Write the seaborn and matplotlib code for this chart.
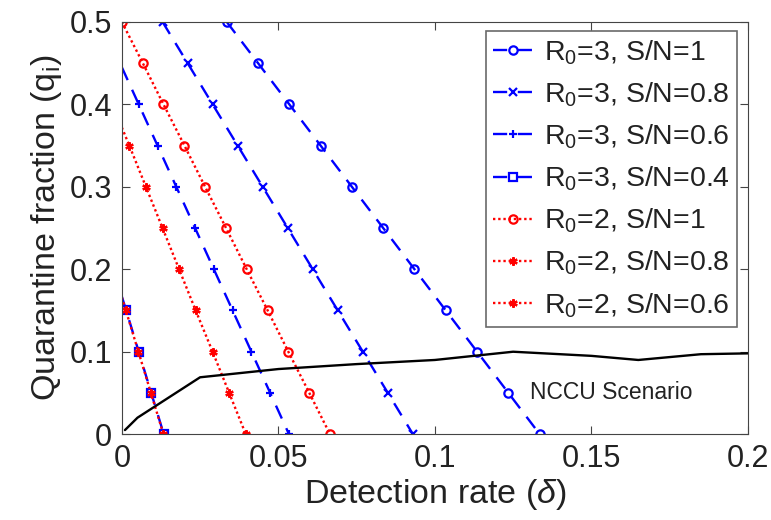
import numpy as np
import pandas as pd
import seaborn as sns
import matplotlib.pyplot as plt

# quarantine fraction levels where markers sit
q_full = [0.5, 0.45, 0.4, 0.35, 0.3, 0.25, 0.2, 0.15, 0.1, 0.05, 0.0]

# R0=3 curves (detection rate for each quarantine level)
x_r3_s10 = [0.0335, 0.0435, 0.0535, 0.0635, 0.0735, 0.0835, 0.0935, 0.1035, 0.1135, 0.1235, 0.1335]
x_r3_s08 = [0.013, 0.021, 0.029, 0.037, 0.045, 0.053, 0.061, 0.069, 0.077, 0.085, 0.093]
q_r3_s06 = [0.445, 0.4, 0.35, 0.3, 0.25, 0.2, 0.15, 0.1, 0.05, 0.0]
x_r3_s06 = [0.0, 0.0054, 0.0114, 0.0174, 0.0234, 0.0294, 0.0354, 0.0414, 0.0474, 0.0534]
q_r3_s04 = [0.167, 0.15, 0.1, 0.05, 0.0]
x_r3_s04 = [0.0, 0.0014, 0.0054, 0.0094, 0.0134]

# R0=2 curves
x_r2_s10 = [0.0, 0.0067, 0.0133, 0.0200, 0.0266, 0.0333, 0.0399, 0.0466, 0.0532, 0.0599, 0.0665]
q_r2_s08 = [0.372, 0.35, 0.3, 0.25, 0.2, 0.15, 0.1, 0.05, 0.0]
x_r2_s08 = [0.0, 0.0024, 0.0077, 0.0130, 0.0183, 0.0236, 0.0290, 0.0343, 0.0396]
q_r2_s06 = [0.166, 0.15, 0.1, 0.05, 0.0]
x_r2_s06 = [0.0, 0.0013, 0.0053, 0.0093, 0.0133]

# NCCU scenario curve
x_nccu = [0.001, 0.005, 0.025, 0.05, 0.075, 0.1, 0.125, 0.15, 0.165, 0.185, 0.2]
q_nccu = [0.005, 0.02, 0.069, 0.079, 0.085, 0.09, 0.1, 0.095, 0.09, 0.097, 0.098]

sns.set_style("ticks")
plt.rcParams['font.family'] = ['Liberation Sans', 'DejaVu Sans']
plt.rcParams['mathtext.fontset'] = 'custom'
plt.rcParams['mathtext.rm'] = 'Liberation Sans'
plt.rcParams['mathtext.it'] = 'Liberation Sans:italic'

fig = plt.figure(figsize=(7.71, 5.2), dpi=100)
ax = fig.add_axes([0.158, 0.165, 0.812, 0.793])

asterisk = (6, 2, 0)
dash = (0, (6, 4.5))
dot = (0, (1, 1.2))
series = [
    (x_r3_s10, q_full, 'R$_0$=3, S/N=1', 'blue', dash, 'o', 'none', False),
    (x_r3_s08, q_full, 'R$_0$=3, S/N=0.8', 'blue', dash, 'x', 'blue', False),
    (x_r3_s06, q_r3_s06, 'R$_0$=3, S/N=0.6', 'blue', dash, '+', 'blue', True),
    (x_r3_s04, q_r3_s04, 'R$_0$=3, S/N=0.4', 'blue', dash, 's', 'none', True),
    (x_r2_s10, q_full, 'R$_0$=2, S/N=1', 'red', dot, 'o', 'none', False),
    (x_r2_s08, q_r2_s08, 'R$_0$=2, S/N=0.8', 'red', dot, asterisk, 'red', True),
    (x_r2_s06, q_r2_s06, 'R$_0$=2, S/N=0.6', 'red', dot, asterisk, 'red', True),
]

for xs, qs, label, color, ls, mk, mfc, skip_first in series:
    df = pd.DataFrame({'x': xs, 'q': qs})
    every = list(range(1, len(xs))) if skip_first else None
    sns.lineplot(data=df, x='x', y='q', ax=ax, sort=False, estimator=None,
                 color=color, linestyle=ls, linewidth=1.7, marker=mk,
                 markersize=6, markerfacecolor=mfc, markeredgecolor=color,
                 markeredgewidth=1.6, markevery=every, label=label)

nccu = pd.DataFrame({'x': x_nccu, 'q': q_nccu})
sns.lineplot(data=nccu, x='x', y='q', ax=ax, sort=False, estimator=None,
             color='black', linewidth=1.7, legend=False)
ax.text(0.1305, 0.051, 'NCCU Scenario', fontsize=16.5, va='center', ha='left',
        color='#222222')

ax.set_xlim(0, 0.2)
ax.set_ylim(0, 0.5)
ax.set_xticks([0, 0.05, 0.1, 0.15, 0.2])
ax.set_xticklabels(['0', '0.05', '0.1', '0.15', '0.2'])
ax.set_yticks([0, 0.1, 0.2, 0.3, 0.4, 0.5])
ax.set_yticklabels(['0', '0.1', '0.2', '0.3', '0.4', '0.5'])
ax.tick_params(direction='in', top=True, right=True, labelsize=22, length=6,
               color='#444444', labelcolor='#222222', pad=7)
for sp in ax.spines.values():
    sp.set_visible(True)
    sp.set_color('#444444')
ax.set_xlabel('Detection rate ($\\delta$)', fontsize=24.5, color='#222222',
              labelpad=2)
ax.set_ylabel('Quarantine fraction (q$_\\mathrm{i}$)', fontsize=24.5,
              color='#222222', labelpad=4)

leg = ax.legend(loc='upper right', bbox_to_anchor=(0.983, 0.978), fontsize=20.5,
                frameon=True, fancybox=False, edgecolor='#444444',
                handlelength=1.4, handletextpad=0.4, labelspacing=0.48,
                borderpad=0.25, borderaxespad=0)
leg.get_frame().set_linewidth(1.2)
for t in leg.get_texts():
    t.set_color('#222222')

fig.savefig('out.png', dpi=100)
